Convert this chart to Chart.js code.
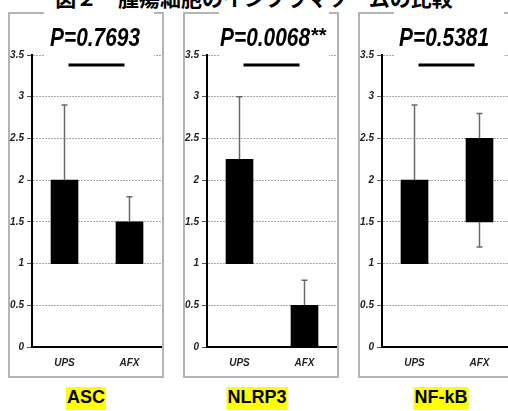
<!DOCTYPE html>
<html>
<head>
<meta charset="utf-8">
<script src="https://cdn.jsdelivr.net/npm/chart.js@4/dist/chart.umd.min.js"></script>
<style>
  html, body { margin: 0; padding: 0; background: #fff; overflow: hidden; }
  body { width: 508px; height: 411px; position: relative; }
  .title { position: absolute; left: 0; width: 508px; top: -18px; height: 24px; line-height: 24px;
           text-align: center; font: bold 21px "Noto Sans CJK JP"; color: #000; white-space: nowrap; }
  .panel { position: absolute; top: 12px; width: 152px; height: 362px; border: 2px solid #b4b4b4; }
  canvas { position: absolute; top: 12px; }
  .gene { position: absolute; top: 387px; height: 23px; line-height: 23px; transform: translateX(-50%);
          background: #ffff00; font: bold 18px "Liberation Sans"; color: #000; padding: 0 1px; white-space: nowrap; }
</style>
</head>
<body>
<div class="title">図２　腫瘍細胞のインフラマソームの比較</div>

<div class="panel" style="left:8px"></div>
<div class="panel" style="left:183px"></div>
<div class="panel" style="left:358px"></div>

<canvas id="c1" width="154" height="364" style="left:8px"></canvas>
<canvas id="c2" width="154" height="364" style="left:183px"></canvas>
<canvas id="c3" width="154" height="364" style="left:358px"></canvas>

<div class="gene" style="left:86px">ASC</div>
<div class="gene" style="left:257px">NLRP3</div>
<div class="gene" style="left:441px">NF-kB</div>

<script>
// === Data ===
const categories = ['UPS', 'AFX'];

const ascBars = [[1, 2], [1, 1.5]];
const ascUpper = [2.9, 1.8];
const ascLower = [null, null];

const nlrp3Bars = [[1, 2.25], [0, 0.5]];
const nlrp3Upper = [3.0, 0.8];
const nlrp3Lower = [null, null];

const nfkbBars = [[1, 2], [1.5, 2.5]];
const nfkbUpper = [2.9, 2.8];
const nfkbLower = [null, 1.2];

const pTexts = ['P=0.7693', 'P=0.0068', 'P=0.5381'];
const pMarks = ['', '**', ''];

const Y_MIN = 0, Y_MAX = 3.5, Y_STEP = 0.5;
const SIG_LEVEL = 3.38;

// error bars, significance bar and p value
const overlay = {
    id: 'overlay',
    afterDatasetsDraw(chart, args, opts) {
        const { ctx, chartArea } = chart;
        const x = chart.scales.x, y = chart.scales.y;
        ctx.save();

        // whiskers
        ctx.strokeStyle = '#6a6a6a';
        ctx.lineWidth = 1.5;
        const bars = chart.data.datasets[0].data;
        bars.forEach((b, i) => {
            const px = x.getPixelForValue(i);
            const hi = opts.upper[i], lo = opts.lower[i];
            ctx.beginPath();
            if (hi != null) {
                ctx.moveTo(px, y.getPixelForValue(b[1]));
                ctx.lineTo(px, y.getPixelForValue(hi));
                ctx.moveTo(px - 3, y.getPixelForValue(hi));
                ctx.lineTo(px + 3, y.getPixelForValue(hi));
            }
            if (lo != null) {
                ctx.moveTo(px, y.getPixelForValue(b[0]));
                ctx.lineTo(px, y.getPixelForValue(lo));
                ctx.moveTo(px - 3, y.getPixelForValue(lo));
                ctx.lineTo(px + 3, y.getPixelForValue(lo));
            }
            ctx.stroke();
        });

        // white box behind the p value (hides the top gridline)
        const yTop = y.getPixelForValue(Y_MAX);
        ctx.fillStyle = '#fff';
        ctx.fillRect(chartArea.left + 12, 0, chartArea.right - chartArea.left - 20, yTop + 2);

        // significance bar
        const ys = y.getPixelForValue(SIG_LEVEL);
        ctx.strokeStyle = '#000';
        ctx.lineWidth = 3;
        ctx.beginPath();
        ctx.moveTo(x.getPixelForValue(0) + 4, ys);
        ctx.lineTo(x.getPixelForValue(1) - 5, ys);
        ctx.stroke();

        // p value text
        ctx.fillStyle = '#000';
        ctx.font = 'bold italic 25px "Liberation Sans"';
        ctx.textBaseline = 'alphabetic';
        const w = ctx.measureText(opts.text).width;
        const sx = Math.min(1, 90 / w);
        const cx = (x.getPixelForValue(0) + x.getPixelForValue(1)) / 2 + opts.dx;
        ctx.save();
        ctx.translate(cx, 34);
        ctx.scale(sx, 1);
        ctx.textAlign = 'center';
        ctx.fillText(opts.text, 0, 0);
        ctx.restore();
        if (opts.mark) {
            ctx.font = 'bold 20px "Liberation Sans"';
            ctx.textAlign = 'left';
            ctx.fillText(opts.mark, cx + w * sx / 2 + 1, 30);
        }
        ctx.restore();
    }
};

function makePanel(id, bars, upper, lower, text, mark, dx) {
    return new Chart(document.getElementById(id), {
        type: 'bar',
        data: {
            labels: categories,
            datasets: [{
                data: bars,
                backgroundColor: '#000',
                borderColor: '#000',
                borderWidth: 0,
                borderSkipped: false,
                barThickness: 27
            }]
        },
        options: {
            responsive: false,
            animation: false,
            events: [],
            layout: { padding: { top: 43, right: 0, bottom: 0, left: 0 } },
            scales: {
                x: {
                    grid: { display: false, drawTicks: false },
                    border: { display: true, color: '#000', width: 2 },
                    ticks: {
                        color: '#222',
                        padding: 10,
                        font: { family: 'Liberation Sans', size: 10, weight: 'bold', style: 'italic' }
                    },
                    afterFit: (s) => { s.height = 29; }
                },
                y: {
                    min: Y_MIN,
                    max: Y_MAX,
                    ticks: {
                        stepSize: Y_STEP,
                        color: '#222',
                        padding: 3,
                        callback: (v) => String(v),
                        font: { family: 'Liberation Sans', size: 10, weight: 'bold', style: 'italic' }
                    },
                    grid: {
                        color: '#a8a8a8',
                        lineWidth: 1,
                        tickLength: 5,
                        tickColor: '#555'
                    },
                    border: { display: true, color: '#000', width: 2, dash: [2, 1] },
                    afterFit: (s) => { s.width = 24; }
                }
            },
            plugins: {
                legend: { display: false },
                tooltip: { enabled: false },
                overlay: { upper, lower, text, mark, dx }
            }
        },
        plugins: [overlay]
    });
}

makePanel('c1', ascBars, ascUpper, ascLower, pTexts[0], pMarks[0], -2);
makePanel('c2', nlrp3Bars, nlrp3Upper, nlrp3Lower, pTexts[1], pMarks[1], -7);
makePanel('c3', nfkbBars, nfkbUpper, nfkbLower, pTexts[2], pMarks[2], -3);
</script>
</body>
</html>
